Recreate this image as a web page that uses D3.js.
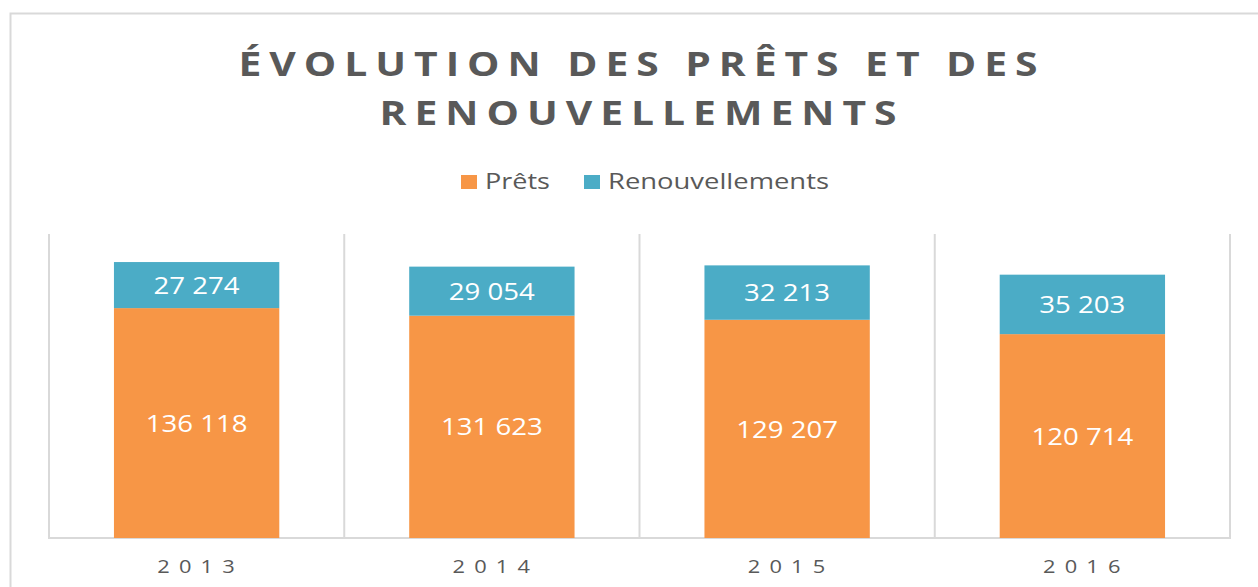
<!DOCTYPE html>
<html>
<head>
<meta charset="utf-8">
<script src="https://cdn.jsdelivr.net/npm/d3@7"></script>
<style>
  body { margin: 0; background: #fff; }
  svg { display: block; font-family: "Open Sans", sans-serif; }
</style>
</head>
<body>
<script>
  var years = ["2013", "2014", "2015", "2016"];
  var prets = [136118, 131623, 129207, 120714];
  var renouvellements = [27274, 29054, 32213, 35203];
  var series = ["Prêts", "Renouvellements"];
  var colors = ["#F79646", "#4BACC6"];
  var titleLines = ["ÉVOLUTION  DES PRÊTS ET DES", "RENOUVELLEMENTS"];

  var width = 1258, height = 587;
  var plotLeft = 49, plotRight = 1230, plotTop = 234, plotBottom = 538;
  var stretch = 1.15;

  var svg = d3.select("body").append("svg")
    .attr("width", width).attr("height", height);

  // outer frame (top and left edges only visible)
  svg.append("path")
    .attr("d", "M10.5," + height + "V13.5H" + width)
    .attr("fill", "none").attr("stroke", "#d9d9d9").attr("stroke-width", 2);

  var rows = years.map(function(y, i) {
    return { year: y, "Prêts": prets[i], "Renouvellements": renouvellements[i] };
  });

  var stack = d3.stack().keys(series)(rows);

  var x = d3.scaleBand().domain(years).range([plotLeft, plotRight])
    .paddingInner(0.44).paddingOuter(0.22);
  var y = d3.scaleLinear().domain([0, 180000]).range([plotBottom, plotTop]);
  var color = d3.scaleOrdinal().domain(series).range(colors);

  var fr = d3.formatLocale({ decimal: ",", thousands: " ", grouping: [3], currency: ["", " €"] });
  var fmt = fr.format(",d");

  // vertical separators between categories
  var step = x.step();
  var bounds = d3.range(years.length + 1).map(function(i) { return plotLeft + i * step; });
  svg.append("g").selectAll("line").data(bounds).join("line")
    .attr("x1", function(d) { return d; }).attr("x2", function(d) { return d; })
    .attr("y1", plotTop).attr("y2", plotBottom)
    .attr("stroke", "#d9d9d9").attr("stroke-width", 2);
  svg.append("line")
    .attr("x1", plotLeft - 1).attr("x2", plotRight + 1).attr("y1", plotBottom).attr("y2", plotBottom)
    .attr("stroke", "#d9d9d9").attr("stroke-width", 2);

  // bars
  var layer = svg.append("g").selectAll("g").data(stack).join("g")
    .attr("fill", function(d) { return color(d.key); });
  layer.selectAll("rect").data(function(d) { return d; }).join("rect")
    .attr("x", function(d) { return x(d.data.year); })
    .attr("width", x.bandwidth())
    .attr("y", function(d) { return y(d[1]); })
    .attr("height", function(d) { return y(d[0]) - y(d[1]); });

  // value labels
  layer.selectAll("text").data(function(d) { return d; }).join("text")
    .attr("transform", function(d) {
      var cx = x(d.data.year) + x.bandwidth() / 2;
      var cy = (y(d[0]) + y(d[1])) / 2;
      return "translate(" + cx + "," + cy + ") scale(" + stretch + ",1)";
    })
    .attr("text-anchor", "middle").attr("dy", "0.36em")
    .attr("fill", "#fff").style("font-size", "24px")
    .text(function(d) { return fmt(d[1] - d[0]); });

  // category labels
  svg.append("g").selectAll("text").data(years).join("text")
    .attr("transform", function(d) {
      return "translate(" + (x(d) + x.bandwidth() / 2 + 4) + "," + 573 + ") scale(" + stretch + ",1)";
    })
    .attr("text-anchor", "middle")
    .style("font-size", "19px").style("letter-spacing", "8px")
    .attr("fill", "#595959")
    .text(function(d) { return d; });

  // title (slightly stretched horizontally like the original)
  var titleWidths = [799, 517];
  svg.append("g").selectAll("text").data(titleLines).join("text")
    .attr("transform", function(d, i) {
      return "translate(638," + (76 + i * 49) + ") scale(1.2,1)";
    })
    .attr("text-anchor", "middle")
    .attr("textLength", function(d, i) { return titleWidths[i] / 1.2; })
    .attr("lengthAdjust", "spacing")
    .style("font-size", "34px").style("font-weight", "bold")
    .attr("fill", "#595959")
    .text(function(d) { return d; });

  // legend
  var legendX = [461, 584], legendW = [65, 221];
  var lg = svg.append("g").selectAll("g").data(series).join("g")
    .attr("transform", function(d, i) { return "translate(" + legendX[i] + ",175)"; });
  lg.append("rect").attr("width", 16).attr("height", 14)
    .attr("fill", function(d) { return color(d); });
  lg.append("text").attr("x", 24).attr("y", 14)
    .attr("textLength", function(d, i) { return legendW[i]; })
    .attr("lengthAdjust", "spacingAndGlyphs")
    .style("font-size", "21px").attr("fill", "#595959")
    .text(function(d) { return d; });
</script>
</body>
</html>
